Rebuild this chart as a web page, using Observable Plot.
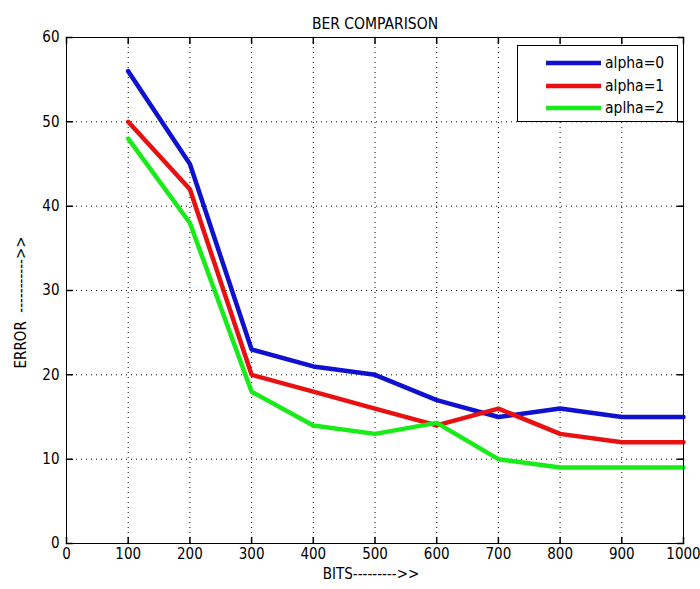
<!DOCTYPE html>
<html>
<head>
<meta charset="utf-8">
<script src="https://cdn.jsdelivr.net/npm/d3@7"></script>
<script src="https://cdn.jsdelivr.net/npm/@observablehq/plot@0.6"></script>
<style>
  html, body { margin: 0; padding: 0; background: white; }
  #wrap { position: relative; width: 700px; height: 589px; }
  #legend {
    position: absolute; left: 517px; top: 45px; width: 161px; height: 77px;
    border: 1px solid black; background: white; box-sizing: border-box;
    font-family: 'DejaVu Sans Condensed', 'Liberation Sans Narrow', sans-serif; font-size: 15.5px;
  }
  .row { position: absolute; left: 0; height: 22px; display: flex; align-items: center; }
  .row svg { margin-left: 28px; }
  .row span { margin-left: 4px; }
</style>
</head>
<body>
<div id="wrap"></div>
<script>
const bits = [100, 200, 300, 400, 500, 600, 700, 800, 900, 1000];
const alpha0 = [56, 45, 23, 21, 20, 17, 15, 16, 15, 15];
const alpha1 = [50, 42, 20, 18, 16, 14, 16, 13, 12, 12];
const alpha2 = [48, 38, 18, 14, 13, 14.3, 10, 9, 9, 9];
const seriesNames = ["alpha=0", "alpha=1", "aplha=2"];
const seriesColors = ["#1010d0", "#e81010", "#18ec18"];
const xTicks = [0, 100, 200, 300, 400, 500, 600, 700, 800, 900, 1000];
const yTicks = [0, 10, 20, 30, 40, 50, 60];

const allSeries = [alpha0, alpha1, alpha2];
const data = allSeries.flatMap((vals, i) => bits.map((b, j) => ({bits: b, error: vals[j], series: seriesNames[i]})));

const tickShape = { draw(context, l) { context.moveTo(0, 0); context.lineTo(0, -l); } };
const font = "'DejaVu Sans Condensed', 'Liberation Sans Narrow', sans-serif";

const chart = Plot.plot({
  width: 700,
  height: 589,
  marginTop: 37,
  marginBottom: 46,
  marginLeft: 66,
  marginRight: 17,
  style: { fontFamily: font, fontSize: "15px", background: "white", color: "black" },
  x: { domain: [0, 1000], ticks: xTicks, label: null, tickFormat: d => String(d) },
  y: { domain: [0, 60], ticks: yTicks, label: null, tickFormat: d => String(d) },
  color: { domain: seriesNames, range: seriesColors },
  marks: [
    Plot.gridX(xTicks, { stroke: "black", strokeOpacity: 1, strokeWidth: 1, strokeDasharray: "1,4" }),
    Plot.gridY(yTicks, { stroke: "black", strokeOpacity: 1, strokeWidth: 1, strokeDasharray: "1,4" }),
    Plot.line(data, { x: "bits", y: "error", z: "series", stroke: "series", strokeWidth: 4.5, strokeLinejoin: "miter" }),
    Plot.frame({ stroke: "black", strokeWidth: 1 }),
    Plot.vector(xTicks, { x: d => d, frameAnchor: "bottom", length: 6, anchor: "start", rotate: 0, shape: tickShape, stroke: "black" }),
    Plot.vector(xTicks, { x: d => d, frameAnchor: "top", length: 6, anchor: "start", rotate: 180, shape: tickShape, stroke: "black" }),
    Plot.vector(yTicks, { y: d => d, frameAnchor: "left", length: 6, anchor: "start", rotate: 90, shape: tickShape, stroke: "black" }),
    Plot.vector(yTicks, { y: d => d, frameAnchor: "right", length: 6, anchor: "start", rotate: -90, shape: tickShape, stroke: "black" }),
    Plot.axisX(xTicks, { tickSize: 0, tickPadding: 5, fontSize: 15, label: null, tickFormat: d => String(d) }),
    Plot.axisY(yTicks, { tickSize: 0, tickPadding: 7, fontSize: 15, label: null, tickFormat: d => String(d) }),
    Plot.text(["BER COMPARISON"], { text: d => d, frameAnchor: "top", dy: -20, fontSize: 15.5 }),
    Plot.text(["BITS--------->>"], { text: d => d, frameAnchor: "bottom", dy: 35, dx: -4, fontSize: 15 }),
    Plot.text(["ERROR  ----------->>"], { text: d => d, frameAnchor: "left", textAnchor: "middle", dx: -45, dy: 12, rotate: -90, fontSize: 15 })
  ]
});

const wrap = document.getElementById("wrap");
wrap.appendChild(chart);

const legend = document.createElement("div");
legend.id = "legend";
seriesNames.forEach((name, i) => {
  const row = document.createElement("div");
  row.className = "row";
  row.style.top = (6 + i * 22.5) + "px";
  row.innerHTML = `<svg width="55" height="8"><line x1="0" y1="4" x2="55" y2="4" stroke="${seriesColors[i]}" stroke-width="4.5"/></svg><span>${name}</span>`;
  legend.appendChild(row);
});
wrap.appendChild(legend);
</script>
</body>
</html>
